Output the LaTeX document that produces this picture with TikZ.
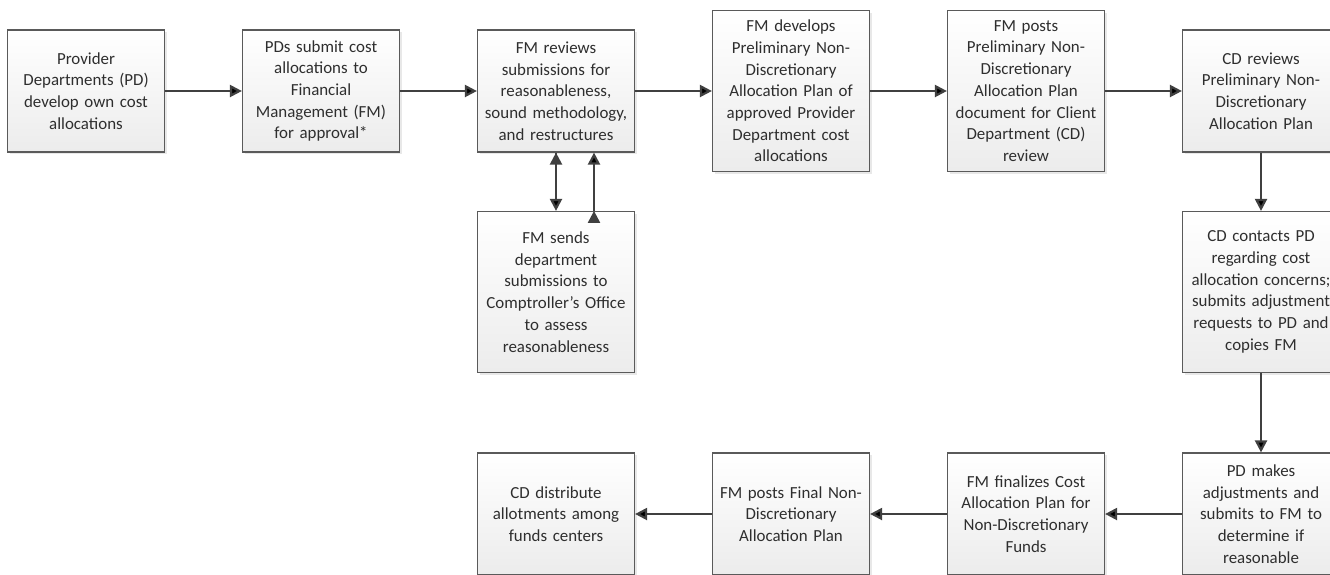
\documentclass[tikz,border=0pt]{standalone}
\usepackage{fontspec}
\setmainfont{Carlito}
\usetikzlibrary{arrows.meta,shadows}
\definecolor{boxline}{HTML}{5A5A5A}
\definecolor{arrowgray}{HTML}{404040}
\definecolor{txtgray}{HTML}{2E2E2E}
\hyphenpenalty=10000

\begin{document}
\begin{tikzpicture}[x=1pt,y=-1pt,
    every node/.style={rectangle,draw=boxline,line width=1.2pt,top color=white,bottom color=gray!15,
      drop shadow={shadow xshift=2pt,shadow yshift=-2pt,opacity=0.18},
      text width=157pt,inner xsep=0pt,inner ysep=5pt,minimum height=122pt,align=center,
      text=txtgray,font=\fontsize{16.9}{21.7}\selectfont},
    tall/.style={minimum height=161pt},
    flow/.style={draw=arrowgray,line width=2.2pt,-{Triangle[length=12pt,width=12pt]}}]
            \useasboundingbox (0,0) rectangle (1330,574);
            \clip (0,0) rectangle (1330,574);

            \node (prov) at (86,91) {Provider\\Departments (PD)\\develop own cost\\allocations};
            \node (submit) at (321,91) {PDs submit cost\\allocations to\\Financial\\Management (FM)\\for approval*};
            \node (review) at (556,91) {FM reviews\\submissions for\\reasonableness,\\sound methodology,\\and restructures};
            \node[tall] (develop) at (791,91) {FM develops\\Preliminary Non-\\Discretionary\\Allocation Plan of\\approved Provider\\Department cost\\allocations};
            \node[tall] (post) at (1026,91) {FM posts\\Preliminary Non-\\Discretionary\\Allocation Plan\\document for Client\\Department (CD)\\review};
            \node (cdrev) at (1261,91) {CD reviews\\Preliminary Non-\\Discretionary\\Allocation Plan};

            \node[tall] (sends) at (556,292) {FM sends\\department\\submissions to\\Comptroller’s Office\\to assess\\reasonableness};
            \node[tall] (contact) at (1261,292) {CD contacts PD\\regarding cost\\allocation concerns;\\submits adjustment\\requests to PD and\\copies FM};

            \node (adjust) at (1261,514) {PD makes\\adjustments and\\submits to FM to\\determine if\\reasonable};
            \node (finalize) at (1026,514) {FM finalizes Cost\\Allocation Plan for\\Non-Discretionary\\Funds};
            \node (final) at (791,514) {FM posts Final Non-\\Discretionary\\Allocation Plan};
            \node (distrib) at (556,514) {CD distribute\\allotments among\\funds centers};

            \path [flow] (prov) edge (submit);
            \path [flow] (submit) edge (review);
            \path [flow] (review) edge (develop);
            \path [flow] (develop) edge (post);
            \path [flow] (post) edge (cdrev);

            \path [flow] (review.south) edge (sends.north);
            \path [flow] ([xshift=38pt]sends.north) edge ([xshift=38pt]review.south);

            \path [flow] (cdrev) edge (contact);
            \path [flow] (contact) edge (adjust);

            \path [flow] (adjust) edge (finalize);
            \path [flow] (finalize) edge (final);
            \path [flow] (final) edge (distrib);
        \end{tikzpicture}
\end{document}
